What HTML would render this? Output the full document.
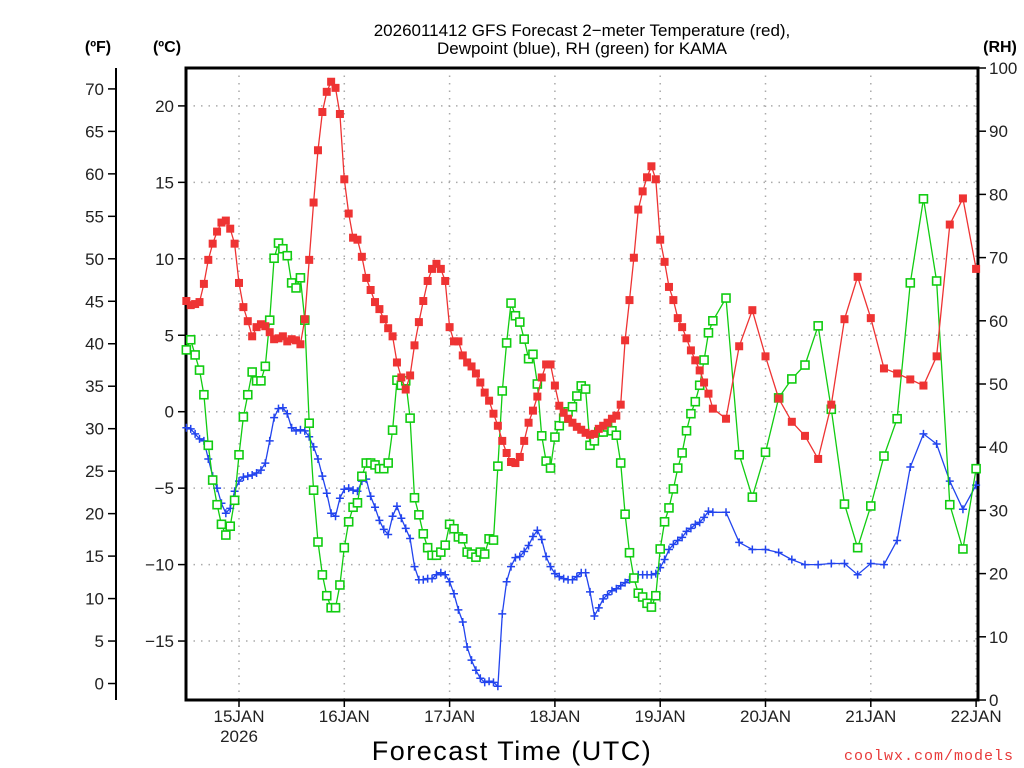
<!DOCTYPE html>
<html><head><meta charset="utf-8"><style>
html,body{margin:0;padding:0;background:#fff;}
svg{display:block;font-family:"Liberation Sans",sans-serif;}
</style></head><body>
<svg id="chart" width="1024" height="768" viewBox="0 0 1024 768" xmlns="http://www.w3.org/2000/svg">
<rect width="1024" height="768" fill="#fff"/>
<text x="582" y="36" text-anchor="middle" font-size="17" fill="#000">2026011412 GFS Forecast 2−meter Temperature (red),</text>
<text x="582" y="54" text-anchor="middle" font-size="17" fill="#000">Dewpoint (blue), RH (green) for KAMA</text>
<text x="98" y="52" text-anchor="middle" font-size="16" font-weight="bold">(ºF)</text>
<text x="167" y="52" text-anchor="middle" font-size="16" font-weight="bold">(ºC)</text>
<text x="1000" y="52" text-anchor="middle" font-size="16" font-weight="bold">(RH)</text>
<text x="512" y="760" text-anchor="middle" font-size="27" letter-spacing="1.5" fill="#000">Forecast Time (UTC)</text>
<text x="1014" y="760" text-anchor="end" font-size="15" letter-spacing="1" fill="#e83a3a" font-family="Liberation Mono, monospace">coolwx.com/models</text>
<g id="grid"></g>
<g id="axes"></g>
<g id="series"></g>
</svg>
<script>
// Hourly temps (°C) from 14JAN12Z (h=-12) to 19JAN12Z (h=108), then 3-hourly h=111..168
const tempHourly=[7.24,6.97,7.04,7.17,8.36,9.93,10.99,11.78,12.37,12.5,
11.97,10.99,8.42,6.84,5.92,4.93,5.53,5.72,5.59,5.2,
4.74,4.8,4.93,4.6,4.74,4.67,4.41,6.05,9.93,13.68,
17.1,19.6,20.92,21.58,21.18,19.47,15.2,12.96,11.38,11.25,
10.13,8.75,7.96,7.17,6.71,6.05,5.46,4.93,3.22,2.24,
1.45,2.37,4.34,5.86,7.24,8.55,9.34,9.67,9.34,8.55,
5.53,4.6,4.6,3.68,3.22,2.96,2.5,1.91,1.25,0.72,
-0.13,-0.92,-1.91,-2.7,-3.29,-3.36,-2.96,-1.91,-0.72,0.07,
0.99,2.24,3.09,3.09,1.71,0.39,-0.07,-0.46,-0.72,-0.99,
-1.18,-1.38,-1.51,-1.45,-1.12,-0.92,-0.72,-0.46,-0.26,0.46,
4.67,7.3,10.07,13.22,14.41,15.33,16.05,15.2,11.25,9.8,
8.16,7.3,6.12,5.53,4.8,4.01,3.36,2.7,1.91,1.18,0.2];
const temp3h=[-0.46,4.28,6.64,3.62,0.86,-0.66,-1.58,-3.09,0.46,6.05,8.82,6.12,2.83,2.5,2.11,1.71,3.62,12.24,13.95,9.34];
const dewHourly=[-1.05,-1.12,-1.45,-1.78,-1.91,-3.09,-4.21,-5,-5.99,-6.64,-6.32,-5.2,
-4.54,-4.28,-4.21,-4.14,-4.01,-3.82,-3.36,-1.91,-0.39,0.2,0.26,-0.13,
-1.05,-1.25,-1.18,-1.25,-1.64,-2.3,-3.09,-4.21,-5.33,-6.64,-6.84,-5.66,
-5.07,-5,-5.13,-5.2,-4.54,-4.41,-5.53,-6.25,-7.11,-7.7,-8.03,-6.84,
-6.18,-6.97,-7.63,-8.29,-10.13,-10.99,-10.99,-10.92,-10.92,-10.66,-10.53,-10.66,
-11.12,-11.91,-12.96,-13.75,-15.39,-16.25,-16.91,-17.43,-17.7,-17.63,-17.7,-17.96,
-13.22,-11.12,-10.13,-9.54,-9.47,-9.14,-8.75,-8.16,-7.76,-8.36,-9.47,-10.13,
-10.59,-10.79,-10.92,-10.99,-10.99,-10.79,-10.53,-10.53,-11.78,-13.36,-12.83,-12.24,
-11.97,-11.71,-11.58,-11.38,-11.18,-10.99,-10.86,-10.66,-10.66,-10.66,-10.66,-10.59,
-10.2,-9.67,-9.01,-8.68,-8.42,-8.22,-7.83,-7.63,-7.37,-7.24,-6.91,-6.51,-6.58];
const dew3h=[-6.58,-8.55,-9.01,-9.01,-9.21,-9.67,-10,-10,-9.93,-9.93,-10.66,-9.93,-10,-8.42,-3.62,-1.45,-2.11,-4.54,-6.38,-4.8];
const rhHourly=[55.4,57,54.6,52.2,48.3,40.3,34.8,30.9,27.8,26.1,27.5,31.6,
38.8,44.8,48.3,51.9,50.5,50.5,52.8,60.1,69.9,72.3,71.4,70.3,
66,65.2,66.8,60.1,43.8,33.2,25,19.8,16.5,14.6,14.6,18.2,
24.1,28.2,30.5,31.2,35.4,37.5,37.5,37.2,36.6,36.6,37.5,42.7,
50.6,49.8,50.5,44.6,32,29.3,26.3,24.1,22.9,22.9,23.4,24.5,
27.8,27.1,25.8,25.5,23.4,23.1,22.6,23.4,23.1,25.5,25.3,37,
48.9,56.5,62.8,60.8,59.8,57.1,54,54.7,50,41.8,37.8,36.7,
41.6,43.4,44.6,45.6,46.4,48.1,49.7,49.2,40.3,41,42.4,42.4,
43.2,42.6,41.9,37.5,29.4,23.3,19.3,16.9,16.3,15.3,14.7,16.5,
23.9,28.2,30.4,33.4,36.7,39.1,42.6,45.3,47.2,49.8,53.8,58.1,60];
const rh3h=[63.6,38.8,32.1,39.2,47.8,50.8,53,59.2,46,31,24.1,30.7,38.6,44.5,66,79.3,66.3,30.9,23.9,36.6];
const celsiusTicks=[20,15,10,5,0,-5,-10,-15];
const fahrenheitTicks=[70,65,60,55,50,45,40,35,30,25,20,15,10,5,0];
const rhTicks=[0,10,20,30,40,50,60,70,80,90,100];
const dayLabels=["15JAN","16JAN","17JAN","18JAN","19JAN","20JAN","21JAN","22JAN"];

const NS="http://www.w3.org/2000/svg";
const L=186,R=978,T=68,B=700;
const X0=239,PXH=105.3/24;
const xs=h=>X0+h*PXH;
const yC=c=>411.7-c*15.29;
const yF=f=>yC((f-32)*5/9);
const yRH=r=>B-r*(B-T)/100;
function mk(tag,attrs,parent){const e=document.createElementNS(NS,tag);for(const k in attrs)e.setAttribute(k,attrs[k]);parent.appendChild(e);return e;}
const grid=document.getElementById('grid'),axes=document.getElementById('axes'),ser=document.getElementById('series');

function hours(nh,n3){const a=[];for(let i=0;i<nh;i++)a.push(-12+i);for(let j=0;j<n3;j++)a.push(-12+nh-1+3*(j+1));return a;}

// grid
celsiusTicks.forEach(c=>{const y=yC(c);
 const g=mk('line',{x1:L,x2:R,y1:y,y2:y,stroke:'#aaa','stroke-width':1.5,'stroke-dasharray':'1.5,6'},grid);
 
 const t=mk('line',{x1:L-8,x2:L,y1:y,y2:y,stroke:'#000','stroke-width':1.5},axes);
 
 const tx=mk('text',{x:L-12,y:y+6,'text-anchor':'end','font-size':17,fill:'#222'},axes);
 tx.textContent=(c<0?'\u2212'+(-c):String(c));
 
});
dayLabels.forEach((d,i)=>{const x=xs(24*i);
 const g=mk('line',{x1:x,x2:x,y1:T,y2:B,stroke:'#aaa','stroke-width':1.5,'stroke-dasharray':'1.5,6'},grid);
 
 const t=mk('line',{x1:x,x2:x,y1:B,y2:B+7,stroke:'#000','stroke-width':1.5},axes);
 
 const tx=mk('text',{x:x,y:B+22,'text-anchor':'middle','font-size':17,fill:'#222'},axes);
 tx.textContent=d;
 
});
const yr=mk('text',{x:xs(0),y:B+42,'text-anchor':'middle','font-size':17,fill:'#222'},axes);
yr.textContent='2026';


// F axis
const fl=mk('line',{x1:116,x2:116,y1:T,y2:B,stroke:'#000','stroke-width':2},axes);

fahrenheitTicks.forEach(f=>{const y=yF(f);
 const t=mk('line',{x1:108,x2:116,y1:y,y2:y,stroke:'#000','stroke-width':1.5},axes);
 
 const tx=mk('text',{x:104,y:y+6,'text-anchor':'end','font-size':17,fill:'#222'},axes);
 tx.textContent=String(f);
 
});
// RH axis
rhTicks.forEach(r=>{const y=yRH(r);
 const t=mk('line',{x1:R,x2:R+8,y1:y,y2:y,stroke:'#000','stroke-width':1.5},axes);
 
 const tx=mk('text',{x:R+11,y:y+6,'text-anchor':'start','font-size':17,fill:'#222'},axes);
 tx.textContent=String(r);
 
});
const box=mk('rect',{x:L,y:T,width:R-L,height:B-T,fill:'none',stroke:'#000','stroke-width':3},axes);


function series(vals,hrs,yfn,color,kind,name){
 const g=mk('g',{},ser);
 
 const pts=vals.map((v,i)=>[xs(hrs[i]),yfn(v)]);
 const pl=mk('polyline',{points:pts.map(p=>p[0].toFixed(1)+','+p[1].toFixed(1)).join(' '),fill:'none',stroke:color,'stroke-width':1.3},g);
 
 pts.forEach(p=>{let m;
  if(kind==='fill'){m=mk('rect',{x:p[0]-4,y:p[1]-4,width:8,height:8,fill:color},g);}
  else if(kind==='open'){m=mk('rect',{x:p[0]-4,y:p[1]-4,width:8,height:8,fill:'#fff',stroke:color,'stroke-width':1.6},g);}
  else {m=mk('path',{d:`M${p[0]-4},${p[1]}h8M${p[0]},${p[1]-4}v8`,stroke:color,'stroke-width':1.5,fill:'none'},g);}
  
  
 });
}
const rhVals=rhHourly.concat(rh3h),dewVals=dewHourly.concat(dew3h),tVals=tempHourly.concat(temp3h);
series(dewVals,hours(dewHourly.length,dew3h.length),yC,'#2244ee','plus','dewpoint');
series(rhVals,hours(rhHourly.length,rh3h.length),yRH,'#11cc11','open','relative-humidity');
series(tVals,hours(tempHourly.length,temp3h.length),yC,'#ee3333','fill','temperature');
</script>
</body></html>
